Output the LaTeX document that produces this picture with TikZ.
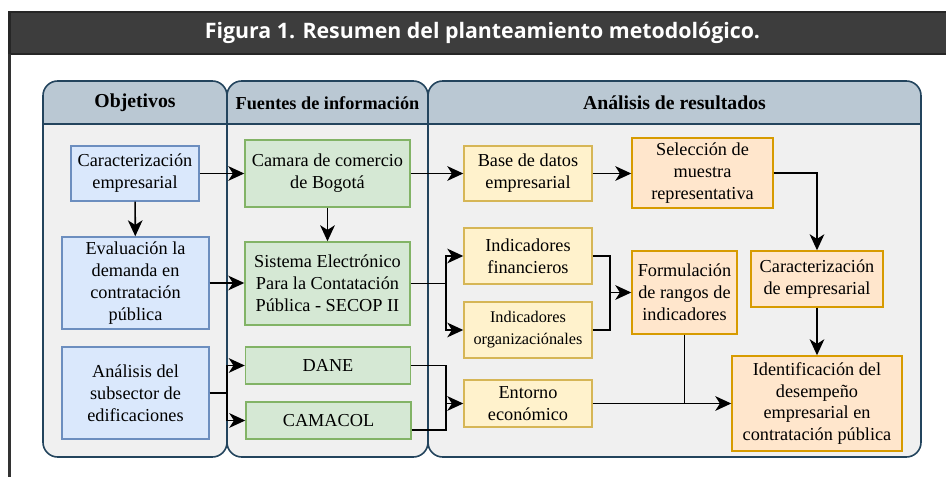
\documentclass[tikz,border=0pt]{standalone}
\usepackage{fontspec}
\setmainfont{Liberation Serif}
\newfontfamily\titlefont{Open Sans}
\usepackage{tikz}
\usepackage{xcolor}
\usetikzlibrary{arrows.meta}

\definecolor{bluefill}{HTML}{DAE8FC}
\definecolor{bluedraw}{HTML}{6C8EBF}
\definecolor{greenfill}{HTML}{D5E8D4}
\definecolor{greendraw}{HTML}{82B366}
\definecolor{yellowfill}{HTML}{FFF2CC}
\definecolor{yellowdraw}{HTML}{D6B656}
\definecolor{orangefill}{HTML}{FFE6CC}
\definecolor{orangedraw}{HTML}{D79B00}
\definecolor{lanehead}{HTML}{BAC8D3}
\definecolor{lanebody}{HTML}{F0F0F0}
\definecolor{laneline}{HTML}{23445D}
\definecolor{titlebar}{HTML}{3D3D3D}

\tikzset{
  box/.style={draw, line width=1.1pt, inner sep=0pt, align=center,
    font=\fontsize{13.7}{16.4}\selectfont},
  objbox/.style={box, fill=bluefill, draw=bluedraw},
  srcbox/.style={box, fill=greenfill, draw=greendraw},
  resbox/.style={box, fill=yellowfill, draw=yellowdraw},
  outbox/.style={box, fill=orangefill, draw=orangedraw},
  lane/.style={draw=laneline, line width=1.2pt, rounded corners=11pt},
  conn/.style={line width=1.2pt},
  arr/.style={conn, -{Stealth[length=12pt, width=11pt, inset=3.5pt]}}
}

\begin{document}
\begin{tikzpicture}[x=0.75pt, y=-0.75pt]
\useasboundingbox (0,0) rectangle (946,477);

% title bar
\draw[draw=black!85, line width=1.6pt, fill=titlebar] (9.5,12) rectangle (980,54);
\draw[black!80, line width=1.8pt] (9.5,54) -- (9.5,490);
\node[text=white, font=\titlefont\bfseries\fontsize{16}{19}\selectfont] (fig) at (482.5,33) {Figura 1. Resumen del planteamiento metodológico.};

% lanes
\begin{scope}
\clip[rounded corners=11pt] (43,81) rectangle (227,457);
\fill[lanebody] (43,81) rectangle (227,457);
\fill[lanehead] (43,81) rectangle (227,124);
\end{scope}
\begin{scope}
\clip[rounded corners=11pt] (227,81) rectangle (428,457);
\fill[lanebody] (227,81) rectangle (428,457);
\fill[lanehead] (227,81) rectangle (428,124);
\end{scope}
\begin{scope}
\clip[rounded corners=11pt] (428,81) rectangle (921,457);
\fill[lanebody] (428,81) rectangle (921,457);
\fill[lanehead] (428,81) rectangle (921,124);
\end{scope}
\draw[lane] (43,81) rectangle (227,457);
\draw[lane] (227,81) rectangle (428,457);
\draw[lane] (428,81) rectangle (921,457);
\draw[laneline, line width=1.2pt] (43,124) -- (921,124);

\node[font=\bfseries\fontsize{14.8}{17}\selectfont] (objT) at (135,103) {Objetivos};
\node[font=\bfseries\fontsize{13.7}{16}\selectfont] (fueT) at (327.5,103) {Fuentes de información};
\node[font=\bfseries\fontsize{14.8}{17}\selectfont] (anaT) at (674.5,103) {Análisis de resultados};

% objetivos
\node[objbox, minimum width=96pt, minimum height=41.25pt] (car) at (135,173.5) {Caracterización\\empresarial};
\node[objbox, minimum width=110.25pt, minimum height=69pt] (eva) at (135.5,283) {Evaluación la\\demanda en\\contratación\\pública};
\node[objbox, minimum width=110.25pt, minimum height=69pt] (ana) at (135.5,393) {Análisis del\\subsector de\\edificaciones};

% fuentes
\node[srcbox, minimum width=123.75pt, minimum height=50.25pt] (cam) at (327.5,173.5) {Camara de comercio\\de Bogotá};
\node[srcbox, minimum width=123.75pt, minimum height=62.25pt] (sec) at (327.5,283.5) {Sistema Electrónico\\Para la Contatación\\Pública - SECOP II};
\node[srcbox, minimum width=123.75pt, minimum height=27.75pt] (dane) at (328,365.5) {DANE};
\node[srcbox, minimum width=123.75pt, minimum height=27.75pt] (camacol) at (328.5,420.5) {CAMACOL};

% resultados
\node[resbox, minimum width=96pt, minimum height=41.25pt] (base) at (528,173.5) {Base de datos\\empresarial};
\node[resbox, minimum width=96pt, minimum height=42pt] (fin) at (528,256) {Indicadores\\financieros};
\node[resbox, minimum width=96pt, minimum height=42pt, font=\fontsize{12.2}{16.5}\selectfont] (org) at (528,330) {Indicadores\\organizaciónales};
\node[resbox, minimum width=96pt, minimum height=35.25pt] (ent) at (528,403.5) {Entorno\\económico};
\node[outbox, minimum width=105.75pt, minimum height=52.5pt] (sel) at (702.5,173) {Selección de\\muestra\\representativa};
\node[outbox, minimum width=78.75pt, minimum height=62.25pt] (for) at (684.5,292.5) {Formulación\\de rangos de\\indicadores};
\node[outbox, minimum width=99pt, minimum height=42pt] (cae) at (817,279) {Caracterización\\de empresarial};
\node[outbox, minimum width=127.5pt, minimum height=71.25pt] (ide) at (817,403.5) {Identificación del\\desempeño\\empresarial en\\contratación pública};

% junctions
\coordinate (j1) at (227,393);
\coordinate (j2) at (446,283.5);
\coordinate (j3) at (446,403.5);
\coordinate (j4) at (610,292.5);

% connectors
\draw[arr] (car) -- (cam);
\draw[arr] (car) -- (eva);
\draw[arr] (cam) -- (sec);
\draw[arr] (eva.east) -- (eva.east -| sec.west);
\draw[conn] (ana.east) -- (j1);
\draw[arr] (j1) |- (dane.west);
\draw[arr] (j1) |- (camacol.west);
\draw[arr] (cam.east) -- (base.west);
\draw[conn] (sec.east) -- (j2);
\draw[arr] (j2) |- (fin.west);
\draw[arr] (j2) |- (org.west);
\draw[conn] (dane.east) -| (j3);
\draw[conn] ([yshift=7.5pt]camacol.south east) -| (j3);
\draw[arr] (j3) -- (ent.west);
\draw[arr] (base.east) -- (base.east -| sel.west);
\draw[arr] (sel.east) -| (cae.north);
\draw[conn] (fin.east) -| (j4);
\draw[conn] (org.east) -| (j4);
\draw[arr] (j4) -- (for.west);
\draw[arr] (ent.east) -- (ide.west);
\draw[conn] (for.south) -- (for.south |- ent.east);
\draw[arr] (cae) -- (ide);

\end{tikzpicture}
\end{document}
